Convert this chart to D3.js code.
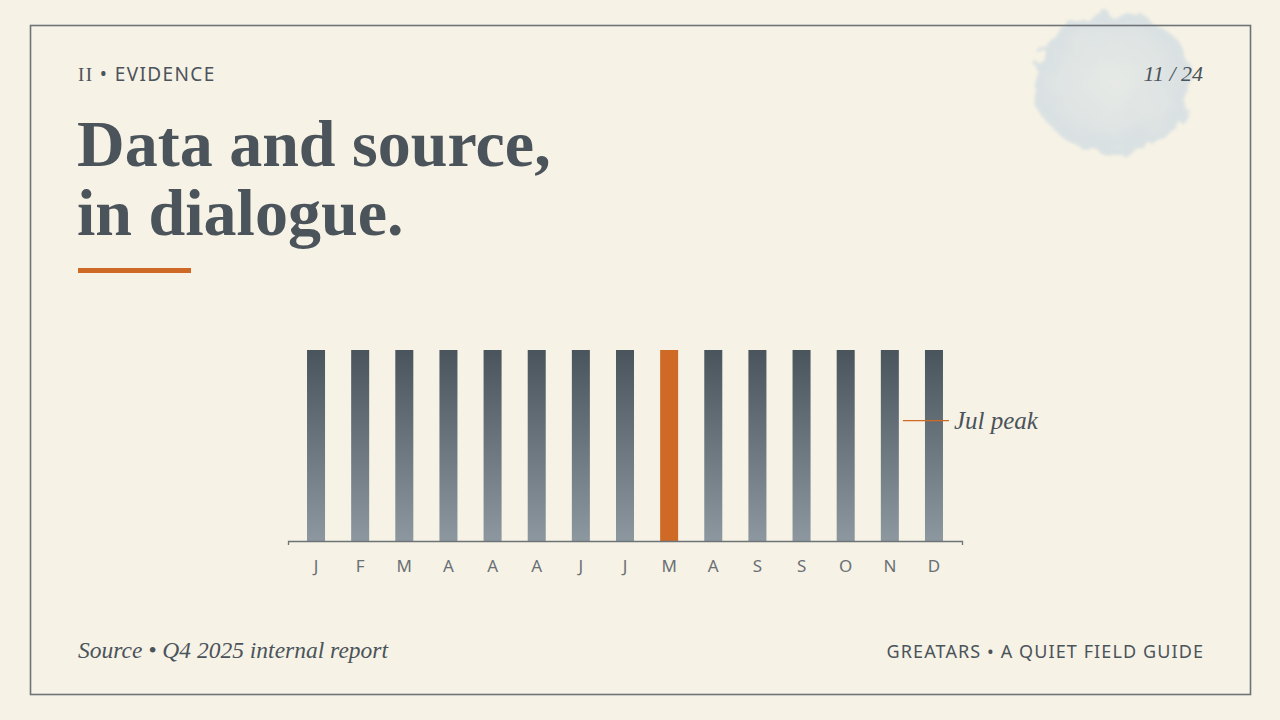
<!DOCTYPE html>
<html>
<head>
<meta charset="utf-8">
<script src="https://cdn.jsdelivr.net/npm/d3@7"></script>
<style>
  html, body { margin: 0; padding: 0; background: #f6f2e5; }
  svg { display: block; }
</style>
</head>
<body>
<script>
// data
var months = ["J", "F", "M", "A", "A", "A", "J", "J", "M", "A", "S", "S", "O", "N", "D"];
var values = [100, 100, 100, 100, 100, 100, 100, 100, 100, 100, 100, 100, 100, 100, 100];
var peakIndex = 8;
var annoIndex = 14;
var annoValue = 63;
var annoLabel = "Jul peak";

// set up
var outerWidth = 1280,
    outerHeight = 720;

var ink = "#4b535b",
    accent = "#cf6a26",
    serif = "'Liberation Serif', 'DejaVu Serif', serif",
    sans = "'Noto Sans', 'Open Sans', sans-serif";

var svg = d3.select("body")
    .append("svg")
    .attr("width", outerWidth)
    .attr("height", outerHeight);

var defs = svg.append("defs");

var grad = defs.append("linearGradient")
    .attr("id", "barGrad")
    .attr("x1", 0).attr("y1", 0)
    .attr("x2", 0).attr("y2", 1);
grad.append("stop").attr("offset", "0%").attr("stop-color", "#4a545d");
grad.append("stop").attr("offset", "100%").attr("stop-color", "#8c979f");

var washGrad = defs.append("radialGradient")
    .attr("id", "washGrad");
washGrad.append("stop").attr("offset", "0%").attr("stop-color", "#e3e8e6");
washGrad.append("stop").attr("offset", "70%").attr("stop-color", "#d9e1e3");
washGrad.append("stop").attr("offset", "100%").attr("stop-color", "#d2dde2");

var blur = defs.append("filter")
    .attr("id", "wash")
    .attr("x", "-30%").attr("y", "-30%")
    .attr("width", "160%").attr("height", "160%");
blur.append("feTurbulence")
    .attr("type", "fractalNoise")
    .attr("baseFrequency", 0.04)
    .attr("numOctaves", 3)
    .attr("seed", 7)
    .attr("result", "noise");
blur.append("feDisplacementMap")
    .attr("in", "SourceGraphic")
    .attr("in2", "noise")
    .attr("scale", 26)
    .attr("result", "disp");
blur.append("feGaussianBlur")
    .attr("in", "disp")
    .attr("stdDeviation", 1.5);

// background
svg.append("rect")
    .attr("width", outerWidth)
    .attr("height", outerHeight)
    .attr("fill", "#f6f2e5");

// watercolor wash top right
svg.append("ellipse")
    .attr("cx", 1113)
    .attr("cy", 82)
    .attr("rx", 80)
    .attr("ry", 70)
    .attr("fill", "url(#washGrad)")
    .attr("opacity", 0.8)
    .attr("filter", "url(#wash)");

// frame
svg.append("rect")
    .attr("x", 30.5)
    .attr("y", 25.5)
    .attr("width", 1220)
    .attr("height", 669)
    .attr("fill", "none")
    .attr("stroke", "#6d7377")
    .attr("stroke-width", 1.6);

// header
var kicker = svg.append("text")
    .attr("x", 78)
    .attr("y", 81)
    .attr("fill", ink)
    .attr("font-size", "19px")
    .attr("letter-spacing", "1.4px");
kicker.append("tspan").attr("font-family", serif).text("II");
kicker.append("tspan").attr("font-family", sans).text(" \u2022 EVIDENCE");

svg.append("text")
    .attr("x", 1203)
    .attr("y", 81)
    .attr("text-anchor", "end")
    .attr("font-family", serif)
    .attr("font-style", "italic")
    .attr("font-size", "22px")
    .attr("fill", ink)
    .text("11 / 24");

// title
var title = svg.append("text")
    .attr("font-family", serif)
    .attr("font-weight", "700")
    .attr("font-size", "66px")
    .attr("fill", ink);
title.append("tspan").attr("x", 77).attr("y", 166).text("Data and source,");
title.append("tspan").attr("x", 77).attr("y", 235).text("in dialogue.");

svg.append("rect")
    .attr("x", 78)
    .attr("y", 268)
    .attr("width", 113)
    .attr("height", 5)
    .attr("fill", accent);

// chart
var chartLeft = 288,
    chartRight = 962,
    chartTop = 350,
    chartBottom = 541;

var x = d3.scaleBand()
    .domain(d3.range(months.length))
    .range([chartLeft, chartRight])
    .paddingInner(0.592)
    .paddingOuter(0.431);

var y = d3.scaleLinear()
    .domain([0, d3.max(values)])
    .range([chartBottom, chartTop]);

var g = svg.append("g");

// add rects
g.selectAll(".bar")
    .data(values)
    .enter()
    .append("rect")
    .attr("class", "bar")
    .attr("x", function(d, i) { return x(i); })
    .attr("width", x.bandwidth())
    .attr("y", function(d) { return y(d); })
    .attr("height", function(d) { return chartBottom - y(d); })
    .attr("fill", function(d, i) { return i == peakIndex ? accent : "url(#barGrad)"; });

// add the X axis
var xAxis = d3.axisBottom(x)
    .tickSizeInner(0)
    .tickSizeOuter(4)
    .tickPadding(19)
    .tickFormat(function(i) { return months[i]; });

var axisG = g.append("g")
    .attr("transform", "translate(0," + chartBottom + ")")
    .call(xAxis);

axisG.select(".domain")
    .attr("stroke", "#6d7377")
    .attr("stroke-width", 1.3);

axisG.selectAll("text")
    .attr("font-family", sans)
    .attr("font-size", "17px")
    .attr("fill", "#6a7075");

// annotation
var ax = x(annoIndex) - 22,
    ay = y(annoValue);

g.append("line")
    .attr("x1", ax)
    .attr("x2", ax + 46)
    .attr("y1", ay)
    .attr("y2", ay)
    .attr("stroke", accent)
    .attr("stroke-width", 1.3);

g.append("text")
    .attr("x", ax + 51)
    .attr("y", ay + 8)
    .attr("font-family", serif)
    .attr("font-style", "italic")
    .attr("font-size", "25px")
    .attr("fill", ink)
    .text(annoLabel);

// footer
svg.append("text")
    .attr("x", 78)
    .attr("y", 658)
    .attr("font-family", serif)
    .attr("font-style", "italic")
    .attr("font-size", "23.5px")
    .attr("fill", ink)
    .text("Source \u2022 Q4 2025 internal report");

svg.append("text")
    .attr("x", 1204)
    .attr("y", 658)
    .attr("text-anchor", "end")
    .attr("font-family", sans)
    .attr("font-size", "18px")
    .attr("letter-spacing", "1.1px")
    .attr("fill", ink)
    .text("GREATARS \u2022 A QUIET FIELD GUIDE");
</script>
</body>
</html>
